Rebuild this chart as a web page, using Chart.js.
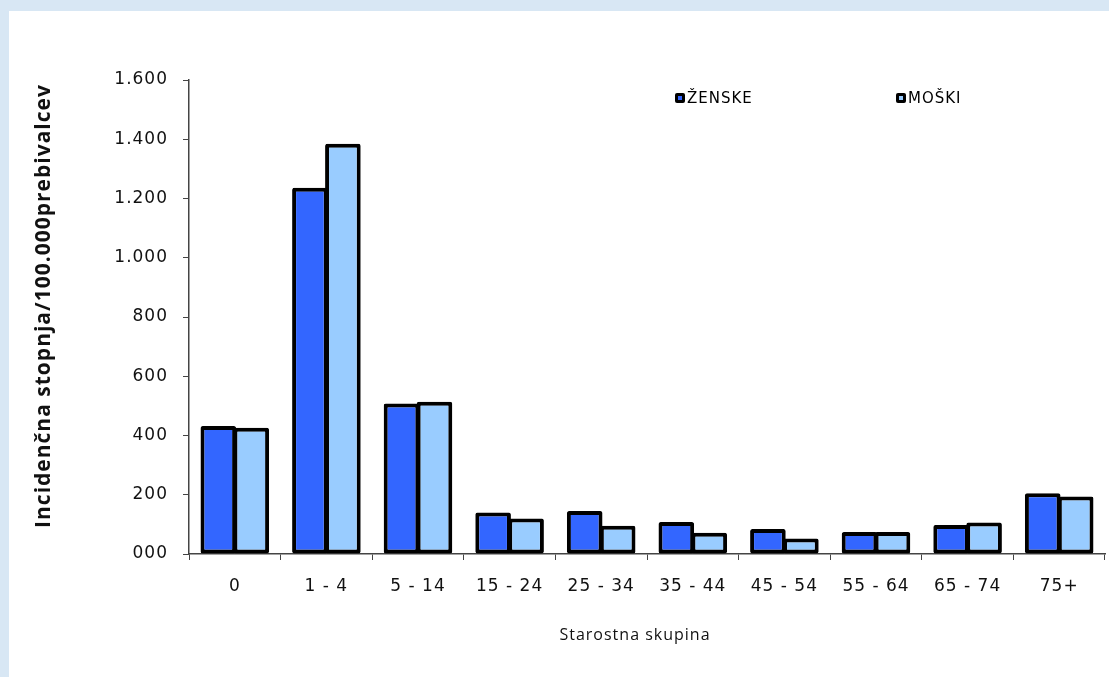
<!DOCTYPE html>
<html>
<head>
<meta charset="utf-8">
<script src="https://cdn.jsdelivr.net/npm/chart.js@4"></script>
<style>
  html, body { margin: 0; padding: 0; }
  body { width: 1109px; height: 677px; background: #d8e7f4; position: relative; overflow: hidden; }
  #wrap { position: absolute; left: 9px; top: 11px; width: 1100px; height: 666px; background: #ffffff; }
</style>
</head>
<body>
<div id="wrap"><canvas id="c" width="1100" height="666"></canvas></div>
<script>
const categories = ["0", "1 - 4", "5 - 14", "15 - 24", "25 - 34", "35 - 44", "45 - 54", "55 - 64", "65 - 74", "75+"];
const zenske = [432, 1236, 508, 140, 145, 108, 84, 74, 98, 205];
const moski  = [426, 1385, 514, 120, 95, 72, 52, 74, 106, 194];
const seriesNames = ["ŽENSKE", "MOŠKI"];
const yTickLabels = {0: "000", 200: "200", 400: "400", 600: "600", 800: "800", 1000: "1.000", 1200: "1.200", 1400: "1.400", 1600: "1.600"};
const yTitle = "Incidenčna stopnja/100.000prebivalcev";
const xTitle = "Starostna skupina";

const FONT = "'DejaVu Sans', Verdana, sans-serif";
const TFONT = "'Open Sans', 'Noto Sans', sans-serif";

const spacingPlugin = {
  id: 'spacing',
  beforeDraw(chart) { chart.ctx.letterSpacing = '1px'; }
};

const titlesPlugin = {
  id: 'axisTitles',
  afterDraw(chart) {
    const ctx = chart.ctx;
    ctx.save();
    ctx.letterSpacing = '1px';
    ctx.fillStyle = '#111';
    ctx.textAlign = 'center';
    ctx.textBaseline = 'middle';
    ctx.font = "16px " + TFONT;
    ctx.fillText(xTitle, 626, 624);
    ctx.translate(35, 295);
    ctx.rotate(-Math.PI / 2);
    ctx.font = "bold 21px " + TFONT;
    ctx.fillText(yTitle, 0, 0);
    ctx.restore();
  }
};

const legendPlugin = {
  id: 'customLegend',
  afterDraw(chart) {
    const ctx = chart.ctx;
    const items = [{x: 671, y: 87}, {x: 892, y: 87}];
    ctx.save();
    chart.data.datasets.forEach((ds, i) => {
      const p = items[i];
      ctx.fillStyle = '#000';
      ctx.beginPath();
      ctx.roundRect(p.x - 5, p.y - 5, 10, 10, 2);
      ctx.fill();
      ctx.fillStyle = ds.backgroundColor;
      ctx.fillRect(p.x - 2, p.y - 2, 4, 4);
      ctx.fillStyle = '#000';
      ctx.font = "15px " + FONT;
      ctx.letterSpacing = '1px';
      ctx.textBaseline = 'middle';
      ctx.textAlign = 'left';
      ctx.fillText(ds.label, p.x + 7, p.y + 1);
    });
    ctx.restore();
  }
};

new Chart(document.getElementById('c'), {
  type: 'bar',
  data: {
    labels: categories,
    datasets: [
      { label: seriesNames[0], data: zenske, backgroundColor: '#3366ff', borderColor: '#000', borderWidth: 4, borderSkipped: false, borderRadius: 2 },
      { label: seriesNames[1], data: moski, backgroundColor: '#99ccff', borderColor: '#000', borderWidth: 4, borderSkipped: false, borderRadius: 2 }
    ]
  },
  options: {
    responsive: false,
    animation: false,
    devicePixelRatio: 1,
    layout: { padding: { left: 24, right: 4, top: 69, bottom: 32 } },
    plugins: { legend: { display: false }, tooltip: { enabled: false } },
    datasets: { bar: { categoryPercentage: 0.72, barPercentage: 1.08 } },
    scales: {
      x: {
        grid: { display: true, drawOnChartArea: false, tickLength: 6, color: '#444', offset: true },
        border: { display: true, color: '#444', width: 1.5 },
        ticks: { color: '#111', font: { family: FONT, size: 17 }, padding: 16, maxRotation: 0 },
        title: { display: false },
        afterFit(scale) { scale.height = 91; }
      },
      y: {
        min: 0, max: 1600,
        grid: { display: true, drawOnChartArea: false, tickLength: 6, color: '#444' },
        border: { display: true, color: '#444', width: 1.5 },
        ticks: { stepSize: 200, color: '#111', font: { family: FONT, size: 17 }, padding: 15,
          callback: (v) => yTickLabels[v] },
        title: { display: false },
        afterFit(scale) { scale.width = 156; }
      }
    }
  },
  plugins: [spacingPlugin, titlesPlugin, legendPlugin]
});
</script>
</body>
</html>
